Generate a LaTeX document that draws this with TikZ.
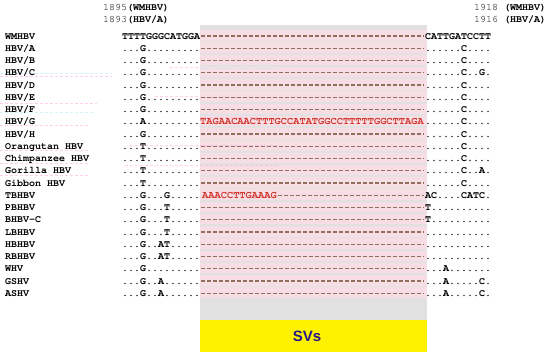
\documentclass[tikz,border=0pt]{standalone}
\usepackage[T1]{fontenc}
\usepackage{fontspec}
\setmainfont{Liberation Serif}
\setsansfont{Liberation Sans}
\newcommand\courfont{\fontencoding{T1}\fontfamily{pcr}\selectfont}
\usepackage{tikz}
\usepackage{xcolor}
\usetikzlibrary{positioning}
\definecolor{boxgrey}{RGB}{225,225,225}
\definecolor{bandpink}{RGB}{246,222,228}
\definecolor{dashbrown}{RGB}{145,112,92}
\definecolor{seqred}{RGB}{210,55,45}
\definecolor{svblue}{RGB}{38,22,140}
\definecolor{ghostpink}{RGB}{255,160,220}
\definecolor{ghostcyan}{RGB}{170,235,245}

\begin{document}
\begin{tikzpicture}[x=1pt,y=-1pt,
  seqcol/.style={anchor=west,inner sep=0pt,text height=6.2pt,text depth=0pt,
    font={\courfont\bfseries\fontsize{10}{12}\selectfont}},
  redseq/.style={seqcol,text=seqred,font={\courfont\bfseries\fontsize{10.35}{12}\selectfont}},
  headcol/.style={anchor=west,inner sep=0pt,font={\courfont\fontsize{10}{12}\selectfont}},
  gapdash/.style={dashbrown,line width=1.1pt,dash pattern=on 4pt off 2pt,shorten <=1pt,shorten >=1pt},
  ghost/.style={line width=0.6pt,dash pattern=on 3pt off 2pt,opacity=0.5}]
  \useasboundingbox (0,0) rectangle (550,356);
  % grey window and SV bar
  \fill[boxgrey] (200,25) rectangle (427,320);
  \foreach \i in {0,...,21}{
    \pgfmathsetmacro\y{36+12.25*\i}
    \fill[bandpink] (200,\y-6) rectangle (427,\y+4.5);
  }
  \fill[yellow] (200,320) rectangle (427,352);
  \node[font={\sffamily\bfseries\fontsize{15}{17}\selectfont},text=svblue] (svs) at (307,336) {SVs};
  % faint traces
  \foreach \xa/\xb/\yy/\cc in {0/112/73/ghostcyan,0/112/76/ghostpink,170/200/67/ghostpink,
      200/280/68/ghostcyan,0/97/103/ghostpink,155/200/96/ghostpink,200/280/97/ghostpink,
      0/95/112/ghostcyan,0/88/125/ghostpink,200/260/117/ghostpink,130/280/145/ghostpink,
      0/90/150/ghostpink,0/90/163/ghostpink,125/280/165/ghostpink,0/88/175/ghostpink}
    \draw[ghost,\cc] (\xa,\yy) -- (\xb,\yy);
  % position headers
  \node[headcol] (hl1) at (103,8) {1895\textbf{(WMHBV)}};
  \node[headcol] (hl2) at (103,20) {1893\textbf{(HBV/A)}};
  \node[headcol] (hr1) at (474,8) {1918 \textbf{(WMHBV)}};
  \node[headcol] (hr2) at (474,20) {1916 \textbf{(HBV/A)}};
  % alignment rows
  \foreach \nm/\lft/\rgt [count=\i from 0] in {
      {WMHBV}/{TTTTGGGCATGGA}/{CATTGATCCTT},
      {HBV/A}/{...G.........}/{......C....},
      {HBV/B}/{...G.........}/{......C....},
      {HBV/C}/{...G.........}/{......C..G.},
      {HBV/D}/{...G.........}/{......C....},
      {HBV/E}/{...G.........}/{......C....},
      {HBV/F}/{...G.........}/{......C....},
      {HBV/G}/{...A.........}/{......C....},
      {HBV/H}/{...G.........}/{......C....},
      {Orangutan HBV}/{...T.........}/{......C....},
      {Chimpanzee HBV}/{...T.........}/{......C....},
      {Gorilla HBV}/{...T.........}/{......C..A.},
      {Gibbon HBV}/{...T.........}/{......C....},
      {TBHBV}/{...G...G.....}/{AC....CATC.},
      {PBHBV}/{...G...T.....}/{T..........},
      {BHBV-C}/{...G...T.....}/{T..........},
      {LBHBV}/{...G...T.....}/{...........},
      {HBHBV}/{...G..AT.....}/{...........},
      {RBHBV}/{...G..AT.....}/{...........},
      {WHV}/{...G.........}/{...A.......},
      {GSHV}/{...G..A......}/{...A.....C.},
      {ASHV}/{...G..A......}/{...A.....C.}}{
    \pgfmathsetmacro\y{36+12.25*\i}
    \node[seqcol] (n\i) at (5,\y) {\nm};
    \node[seqcol] (l\i) at (122,\y) {\lft};
    \node[seqcol] (r\i) at (425,\y) {\rgt};
  }
  % inserted stretches
  \node[redseq] (insG) at (200,121.75) {TAGAACAACTTTGCCATATGGCCTTTTTGGCTTAGA};
  \node[redseq] (insT) at (202,195.25) {AAACCTTGAAAG};
  \foreach \i in {0,...,21}{
    \ifnum\i=7\relax
    \else\ifnum\i=13\relax
      \draw[gapdash] (insT.east) -- (r\i.west);
    \else
      \draw[gapdash] (l\i.east) -- (r\i.west);
    \fi\fi
  }
\end{tikzpicture}
\end{document}
